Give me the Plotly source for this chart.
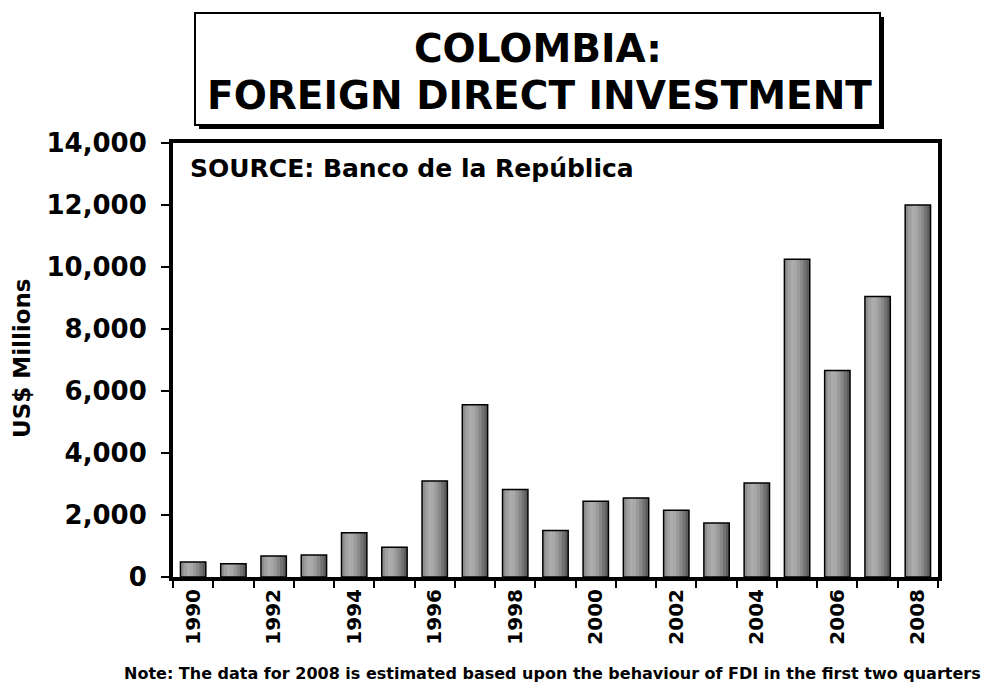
import plotly.graph_objects as go

years = [str(y) for y in range(1990, 2009)]
fdi = [480, 430, 680, 710, 1430, 960, 3100, 5560, 2820, 1500, 2440, 2550, 2150, 1740, 3030, 10250, 6660, 9050, 12000]
tick_labels = [y if int(y) % 2 == 0 else "" for y in years]

W, H = 1001, 688
L, R, T, B = 173, 938, 143, 577

def px(x):
    return (x - L) / (R - L)

def py(y):
    return (B - y) / (B - T)

FONT = "DejaVu Sans"
fig = go.Figure()

# horizontal gradient approximation via overlapping slices
bar_w = 0.63
slice_cols = ["#8e8e8e", "#a0a0a0", "#acacac", "#a8a8a8", "#9a9a9a", "#888888", "#727272", "#5c5c5c"]
n = len(slice_cols)
sw = bar_w / n
for i, c in enumerate(slice_cols):
    w = sw * 1.5 if i < n - 1 else sw
    fig.add_trace(go.Bar(x=years, y=fdi, width=w, offset=-bar_w / 2 + i * sw,
                         marker=dict(color=c, line=dict(width=0)), showlegend=False,
                         hoverinfo="skip"))
fig.add_trace(go.Bar(x=years, y=fdi, width=bar_w, offset=-bar_w / 2,
                     marker=dict(color="rgba(0,0,0,0)", line=dict(color="black", width=1.5)),
                     showlegend=False))

fig.update_layout(
    width=W, height=H, barmode="overlay",
    margin=dict(l=L, r=W - R, t=T, b=H - B),
    paper_bgcolor="white", plot_bgcolor="white",
    font=dict(family=FONT, color="black", weight="bold"),
    xaxis=dict(type="category", tickvals=years, ticktext=tick_labels, tickangle=-90,
               tickson="boundaries", ticks="outside", ticklen=7, tickwidth=1.5, tickcolor="black",
               showline=True, linecolor="black", linewidth=4, mirror=True, showgrid=False,
               tickfont=dict(family=FONT, size=20, weight="bold")),
    yaxis=dict(range=[0, 14000], dtick=2000, tickformat=",", ticks="outside", ticklen=8,
               tickwidth=1.5, tickcolor="black", showline=True, linecolor="black", linewidth=4,
               mirror=True, showgrid=False, zeroline=False, ticklabelstandoff=9,
               tickfont=dict(family=FONT, size=26, weight="bold")),
)

# title box with shadow
fig.add_shape(type="rect", xref="paper", yref="paper", x0=px(199), x1=px(884), y0=py(129), y1=py(17),
              fillcolor="black", line=dict(width=0), layer="above")
fig.add_shape(type="rect", xref="paper", yref="paper", x0=px(195), x1=px(880), y0=py(125), y1=py(13),
              fillcolor="white", line=dict(color="black", width=2), layer="above")

fig.add_annotation(text="COLOMBIA:", xref="paper", yref="paper", x=px(538), y=py(48),
                   showarrow=False, xanchor="center", yanchor="middle",
                   font=dict(family=FONT, size=39, weight="bold"))
fig.add_annotation(text="FOREIGN DIRECT INVESTMENT", xref="paper", yref="paper", x=px(539), y=py(95),
                   showarrow=False, xanchor="center", yanchor="middle",
                   font=dict(family=FONT, size=39, weight="bold"))

fig.add_annotation(text="SOURCE: Banco de la República", xref="paper", yref="paper", x=px(188), y=py(168),
                   showarrow=False, xanchor="left", yanchor="middle",
                   font=dict(family=FONT, size=25, weight="bold"))

fig.add_annotation(text="US$ Millions", xref="paper", yref="paper", x=px(22), y=py(358),
                   showarrow=False, xanchor="center", yanchor="middle", textangle=-90,
                   font=dict(family=FONT, size=23, weight="bold"))

fig.add_annotation(text="Note: The data for 2008 is estimated based upon the behaviour of FDI in the first two quarters",
                   xref="paper", yref="paper", x=px(552), y=py(673),
                   showarrow=False, xanchor="center", yanchor="middle",
                   font=dict(family=FONT, size=16, weight="bold"))

fig.write_html("out.html")
